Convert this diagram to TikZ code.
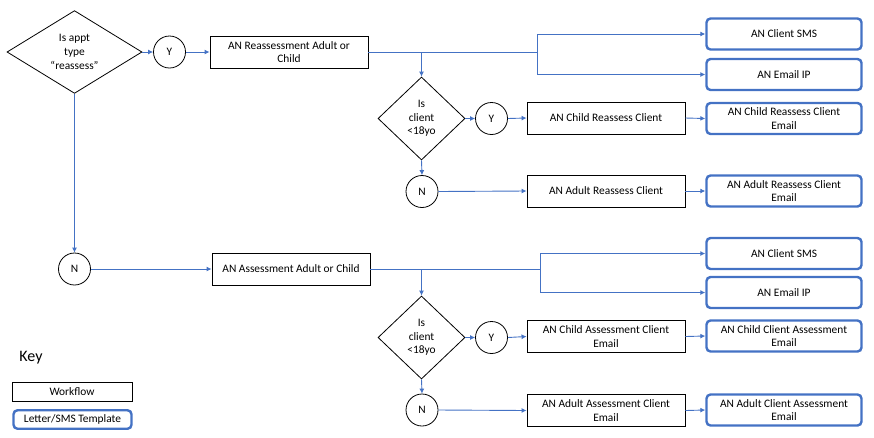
\documentclass[tikz,border=0pt]{standalone}
\usepackage{fontspec}
\setmainfont{Carlito}
\usetikzlibrary{shapes.geometric,arrows.meta}
\definecolor{flowblue}{RGB}{68,114,196}

\begin{document}
\begin{tikzpicture}[x=1pt,y=-1pt,
        font=\fontsize{11.4}{13.7}\selectfont,
        wf/.style={draw, line width=0.9pt, minimum width=158, minimum height=32, inner sep=1pt, align=center},
        tpl/.style={draw=flowblue, line width=2.4pt, rounded corners=4pt, minimum width=155, minimum height=31, inner sep=1pt, align=center},
        dec/.style={draw, diamond, line width=0.8pt, inner sep=0pt, align=center},
        yn/.style={draw, circle, line width=0.8pt, minimum size=32, inner sep=0pt},
        flow/.style={draw=flowblue, line width=0.9pt, -{Latex[length=5pt,width=5pt]}}]
            \useasboundingbox (0,0) rectangle (874,437);
            % reassessment branch
            \node [dec, minimum width=135, minimum height=82] (d1) at (74.5,52) {Is appt\\type\\“reassess”};
            \node [yn] (y1) at (169.5,52) {Y};
            \node [wf] (reb) at (289,52) {AN Reassessment Adult or\\Child};
            \node [dec, minimum width=87, minimum height=83] (d2) at (421.5,118.5) {Is\\client\\<18yo};
            \node [yn] (y2) at (491.5,118.5) {Y};
            \node [wf] (crc) at (606,118) {AN Child Reassess Client};
            \node [yn] (n2) at (422,191.5) {N};
            \node [wf] (arc) at (606,191) {AN Adult Reassess Client};
            \node [tpl] (sms1) at (784,34) {AN Client SMS};
            \node [tpl] (ip1) at (784,74.5) {AN Email IP};
            \node [tpl] (crce) at (784,118.5) {AN Child Reassess Client\\Email};
            \node [tpl] (arce) at (784,191) {AN Adult Reassess Client\\Email};
            \coordinate (j1) at (537,52);
            % assessment branch
            \node [yn] (n1) at (74.5,269) {N};
            \node [wf] (asb) at (291,269) {AN Assessment Adult or Child};
            \node [dec, minimum width=87, minimum height=83] (d3) at (421.5,337.5) {Is\\client\\<18yo};
            \node [yn] (y3) at (491.5,337.5) {Y};
            \node [wf] (cac) at (606,336.5) {AN Child Assessment Client\\Email};
            \node [yn] (n3) at (422,410) {N};
            \node [wf] (aac) at (606,410.5) {AN Adult Assessment Client\\Email};
            \node [tpl] (sms2) at (784,253.5) {AN Client SMS};
            \node [tpl] (ip2) at (784,292.5) {AN Email IP};
            \node [tpl] (ccae) at (784,336) {AN Child Client Assessment\\Email};
            \node [tpl] (acae) at (784,410) {AN Adult Client Assessment\\Email};
            \coordinate (j2) at (540,269);
            % key
            \node [font=\fontsize{16}{18}\selectfont] (key) at (31,358) {Key};
            \node [wf, minimum width=120, minimum height=19] (kwf) at (72,391.5) {Workflow};
            \node [tpl, minimum width=118, minimum height=18.5] (ktpl) at (72.5,419.5) {Letter/SMS Template};
            % connectors
            \draw [flow] (d1.east) -- (y1.west);
            \draw [flow] (y1.east) -- (reb.west);
            \draw [flow] (reb.east) -- (j1) |- (sms1.west);
            \draw [flow] (j1) |- (ip1.west);
            \draw [flow] (reb.east -| d2.north) -- (d2.north);
            \draw [flow] (d2.east) -- (y2.west);
            \draw [flow] (y2.east) -- (crc.west);
            \draw [flow] (crc.east) -- (crce.west);
            \draw [flow] (d2.south) -- (n2.north);
            \draw [flow] (n2.east) -- (arc.west);
            \draw [flow] (arc.east) -- (arce.west);
            \draw [flow] (d1.south) -- (n1.north);
            \draw [flow] (n1.east) -- (asb.west);
            \draw [flow] (asb.east) -- (j2) |- (sms2.west);
            \draw [flow] (j2) |- (ip2.west);
            \draw [flow] (asb.east -| d3.north) -- (d3.north);
            \draw [flow] (d3.east) -- (y3.west);
            \draw [flow] (y3.east) -- (cac.west);
            \draw [flow] (cac.east) -- (ccae.west);
            \draw [flow] (d3.south) -- (n3.north);
            \draw [flow] (n3.east) -- (aac.west);
            \draw [flow] (aac.east) -- (acae.west);
        \end{tikzpicture}
\end{document}
